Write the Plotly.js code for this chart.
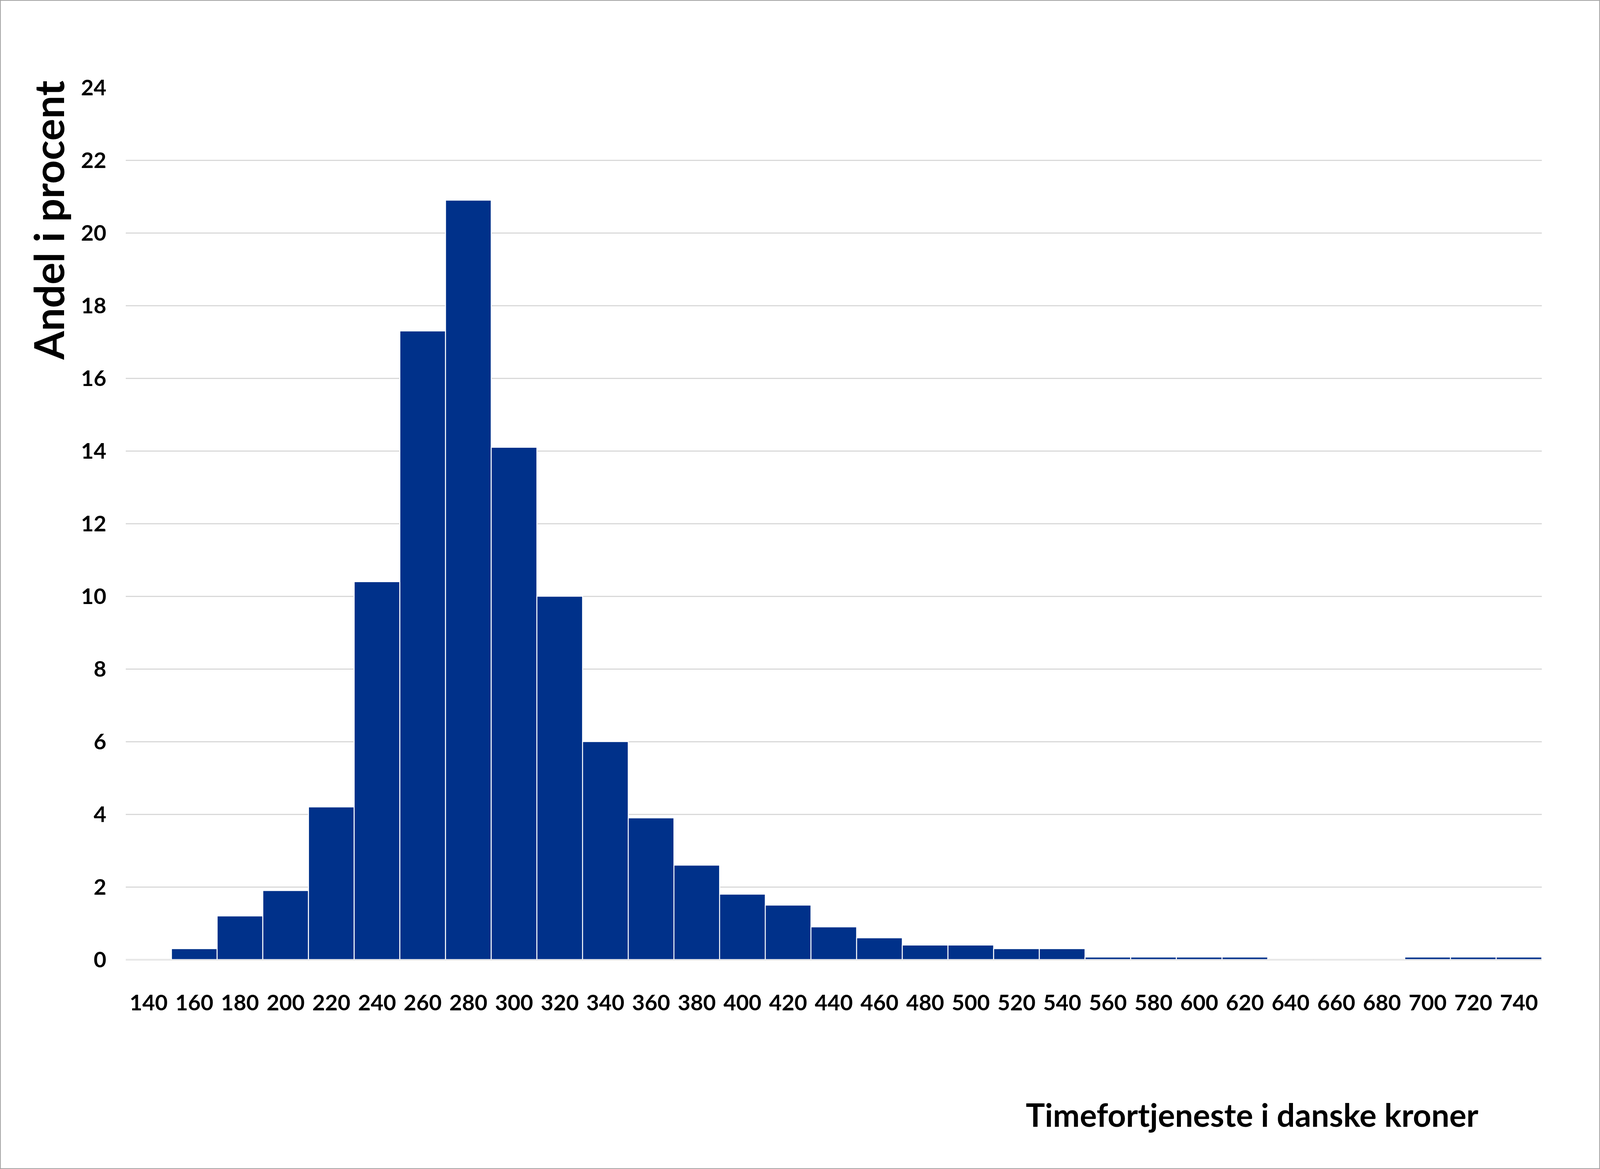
<!DOCTYPE html>
<html>
<head>
<meta charset="utf-8">
<script src="https://cdn.plot.ly/plotly-3.0.1.min.js"></script>
<style>
  html, body { margin: 0; padding: 0; background: #fff; overflow: hidden; }
  #wrap { position: relative; }
  #frame {
    position: absolute; left: 0; top: 0;
    box-sizing: border-box; border-style: solid; border-color: #a3a3a3; pointer-events: none;
  }
</style>
</head>
<body>
<div id="wrap">
  <div id="chart"></div>
  <div id="frame"></div>
</div>
<script>
// hourly earnings bins (DKK) and share of employees in percent
const wageBins = [
  "140", "160", "180", "200", "220", "240", "260", "280", "300", "320",
  "340", "360", "380", "400", "420", "440", "460", "480", "500", "520",
  "540", "560", "580", "600", "620", "640", "660", "680", "700", "720", "740",
];
const sharePct = [
  0, 0.3, 1.2, 1.9, 4.2, 10.4, 17.3, 20.9, 14.1, 10.0,
  6.0, 3.9, 2.6, 1.8, 1.5, 0.9, 0.6, 0.4, 0.4, 0.3,
  0.3, 0.07, 0.07, 0.07, 0.07, 0, 0, 0, 0.07, 0.07, 0.07,
];
const yTicks = [0, 2, 4, 6, 8, 10, 12, 14, 16, 18, 20, 22, 24];

const FONT = "Lato, 'Open Sans', sans-serif";
const BAR_COLOR = "#00318a";
const GRID_COLOR = "#d9d9d9";

// layout measured on a 6765x2992 canvas, stretched to the real viewport
const BASE_W = 6765;
const BASE_H = 2992;
const W = window.innerWidth;
const H = window.innerHeight;
const sx = W / BASE_W;
const sy = H / BASE_H;
// text can't be stretched, so keep it between the two scales
const sf = Math.min(1, Math.max(sx, sy) * 0.7, Math.min(sx, sy) * 1.16);
const sv = Math.min(1, Math.max(sx, sy) * 0.9, Math.min(sx, sy) * 1.5);

const chartEl = document.getElementById("chart");
const frameEl = document.getElementById("frame");
chartEl.style.width = W + "px";
chartEl.style.height = H + "px";
frameEl.style.width = W + "px";
frameEl.style.height = H + "px";
frameEl.style.borderWidth = Math.max(1, 4 * Math.min(sx, sy)) + "px";

const tickFont = { family: FONT, size: 80 * sf, color: "#000000", weight: 700 };
const xTitleSize = 117 * sf;
const yTitleSize = 117 * sv;

const plotLeft = 531, plotRight = 6519, plotTop = 224, plotBottom = 2456;
const paperX = v => (v - plotLeft) / (plotRight - plotLeft);
const paperY = v => (plotBottom - v) / (plotBottom - plotTop);

const trace = {
  type: "bar",
  x: wageBins,
  y: sharePct,
  marker: { color: BAR_COLOR, line: { color: "#ffffff", width: 4 * sx } },
  hoverinfo: "x+y",
};

const layout = {
  width: W,
  height: H,
  margin: {
    l: plotLeft * sx,
    r: (BASE_W - plotRight) * sx,
    t: plotTop * sy,
    b: (BASE_H - plotBottom) * sy,
    pad: 0,
  },
  paper_bgcolor: "#ffffff",
  plot_bgcolor: "#ffffff",
  bargap: 0,
  showlegend: false,
  font: tickFont,
  xaxis: {
    type: "category",
    range: [-0.5, wageBins.length - 0.5],
    showgrid: false,
    zeroline: false,
    showline: false,
    // invisible ticks, only used to push the labels away from the axis
    ticks: "outside",
    ticklen: 62 * sy,
    tickcolor: "rgba(0,0,0,0)",
    tickfont: tickFont,
  },
  yaxis: {
    range: [0, 24],
    tickvals: yTicks,
    showgrid: true,
    gridcolor: GRID_COLOR,
    gridwidth: 3 * sy,
    zeroline: true,
    zerolinecolor: GRID_COLOR,
    zerolinewidth: 4 * sy,
    showline: false,
    ticks: "outside",
    ticklen: 62 * sx,
    tickcolor: "rgba(0,0,0,0)",
    tickfont: tickFont,
  },
  annotations: [
    {
      text: "Andel i procent",
      textangle: -90,
      xref: "paper", yref: "paper",
      x: paperX(268 - 0.387 * yTitleSize / sx),
      y: paperY(205),
      xanchor: "center", yanchor: "top",
      showarrow: false,
      font: { family: FONT, size: yTitleSize, color: "#000000", weight: 700 },
    },
    {
      text: "Timefortjeneste i danske kroner",
      xref: "paper", yref: "paper",
      x: paperX(5294),
      y: paperY(2884 - 0.387 * xTitleSize / sy),
      xanchor: "center", yanchor: "middle",
      showarrow: false,
      font: { family: FONT, size: xTitleSize, color: "#000000", weight: 700 },
    },
  ],
};

Plotly.newPlot(chartEl, [trace], layout, { displayModeBar: false, staticPlot: true });
</script>
</body>
</html>
